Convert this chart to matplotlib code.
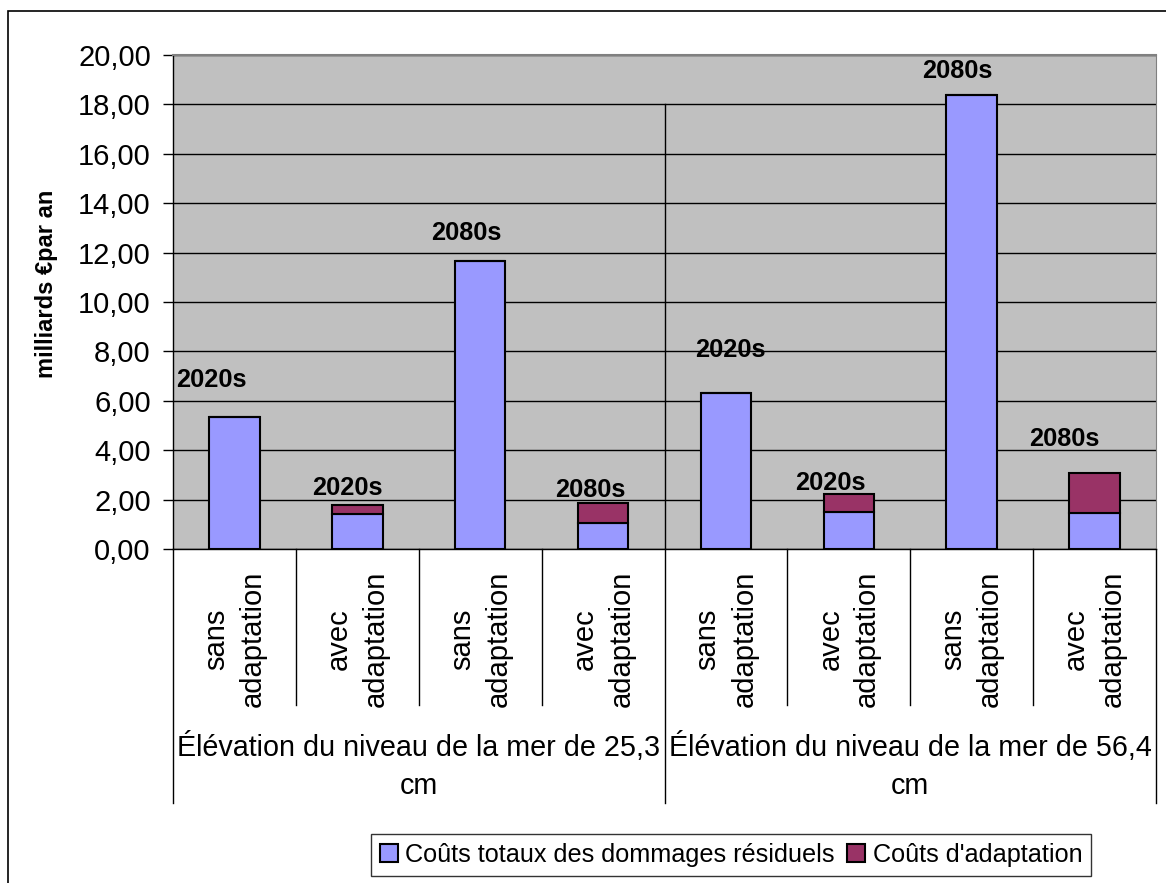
import matplotlib.pyplot as plt
from matplotlib.patches import Rectangle

plt.rcParams['font.family'] = ['Liberation Sans', 'DejaVu Sans']

# ------------------------------------------------------| Data
categories = ['sans\nadaptation', 'avec\nadaptation', 'sans\nadaptation', 'avec\nadaptation',
              'sans\nadaptation', 'avec\nadaptation', 'sans\nadaptation', 'avec\nadaptation']
groups = ['Élévation du niveau de la mer de 25,3\ncm',
          'Élévation du niveau de la mer de 56,4\ncm']
residuel = [5.33, 1.43, 11.66, 1.05, 6.30, 1.51, 18.38, 1.44]
adaptation = [0.00, 0.34, 0.00, 0.81, 0.00, 0.73, 0.00, 1.62]
periodes = ['2020s', '2020s', '2080s', '2080s', '2020s', '2020s', '2080s', '2080s']
# where the data labels sit (category units, value units)
label_x = [-0.19, 0.92, 1.89, 2.90, 4.04, 4.85, 5.88, 6.75]
label_y = [6.84, 2.47, 12.79, 2.39, 8.06, 2.67, 19.35, 4.45]
yticks = [0, 2, 4, 6, 8, 10, 12, 14, 16, 18, 20]

# ------------------------------------------------------| Plot
fig = plt.figure(figsize=(11.66, 8.83), dpi=100)
ax = fig.add_axes([173 / 1166, 1 - 549 / 883, 983 / 1166, 494 / 883])
ax.set_facecolor('#C0C0C0')

x = list(range(len(categories)))
b1 = ax.bar(x, residuel, width=0.41, color='#9999FF', edgecolor='black', linewidth=1.5,
            label='Coûts totaux des dommages résiduels', zorder=3)
b2 = ax.bar(x, adaptation, width=0.41, bottom=residuel, color='#993366', edgecolor='black',
            linewidth=1.5, label="Coûts d'adaptation", zorder=3)

for lx, ly, p in zip(label_x, label_y, periodes):
    ax.text(lx, ly, p, ha='center', va='center', fontsize=18.3, fontweight='bold', zorder=4)

ax.set_xlim(-0.5, 7.5)
ax.set_ylim(0, 20)
ax.set_yticks(yticks)
ax.yaxis.set_major_formatter(plt.FuncFormatter(lambda v, p: ('%.2f' % v).replace('.', ',')))
ax.tick_params(axis='y', labelsize=21, length=7, width=1, direction='out', pad=9)
ax.set_xticks([])
ax.grid(axis='y', color='black', linewidth=1, zorder=1)
ax.spines['top'].set_color('#808080')
ax.spines['top'].set_linewidth(1.5)
ax.spines['right'].set_color('#808080')
ax.spines['bottom'].set_linewidth(1)
ax.spines['left'].set_linewidth(1)

# divider between the two groups inside the plot
ax.plot([3.5, 3.5], [0, 18], color='black', linewidth=1, zorder=2)

# category axis below the plot
tr = ax.get_xaxis_transform()
for i in range(9):
    bottom = -0.514 if i in (0, 4, 8) else -0.316
    ax.plot([i - 0.5, i - 0.5], [0, bottom], transform=tr, color='black', linewidth=1, clip_on=False)
for i, c in enumerate(categories):
    ax.text(i, -0.182, c, transform=tr, rotation=90, ha='center', va='center',
            multialignment='center', fontsize=21, linespacing=1.4)
for g, gx in zip(groups, [1.5, 5.5]):
    ax.text(gx, -0.44, g, transform=tr, ha='center', va='center', fontsize=20.7, linespacing=1.45)

fig.text(47 / 1166, 1 - 284 / 883, 'milliards €par an', rotation=90, ha='center', va='center',
         fontsize=17, fontweight='bold')

leg = fig.legend(handles=[b1, b2], loc='center', bbox_to_anchor=(731 / 1166, 1 - 855 / 883),
                 ncol=2, fontsize=18.2, frameon=True, fancybox=False, edgecolor='black',
                 handlelength=0.7, handleheight=0.7, handletextpad=0.3, columnspacing=0.5,
                 borderpad=0.35, borderaxespad=0)
leg.get_frame().set_linewidth(1)

# outer chart border
fig.patches.append(Rectangle((8 / 1166, -0.05), 1.1, 1 - 11 / 883 + 0.05, transform=fig.transFigure,
                             fill=False, edgecolor='black', linewidth=1.2))

plt.savefig('out.png', dpi=100)
